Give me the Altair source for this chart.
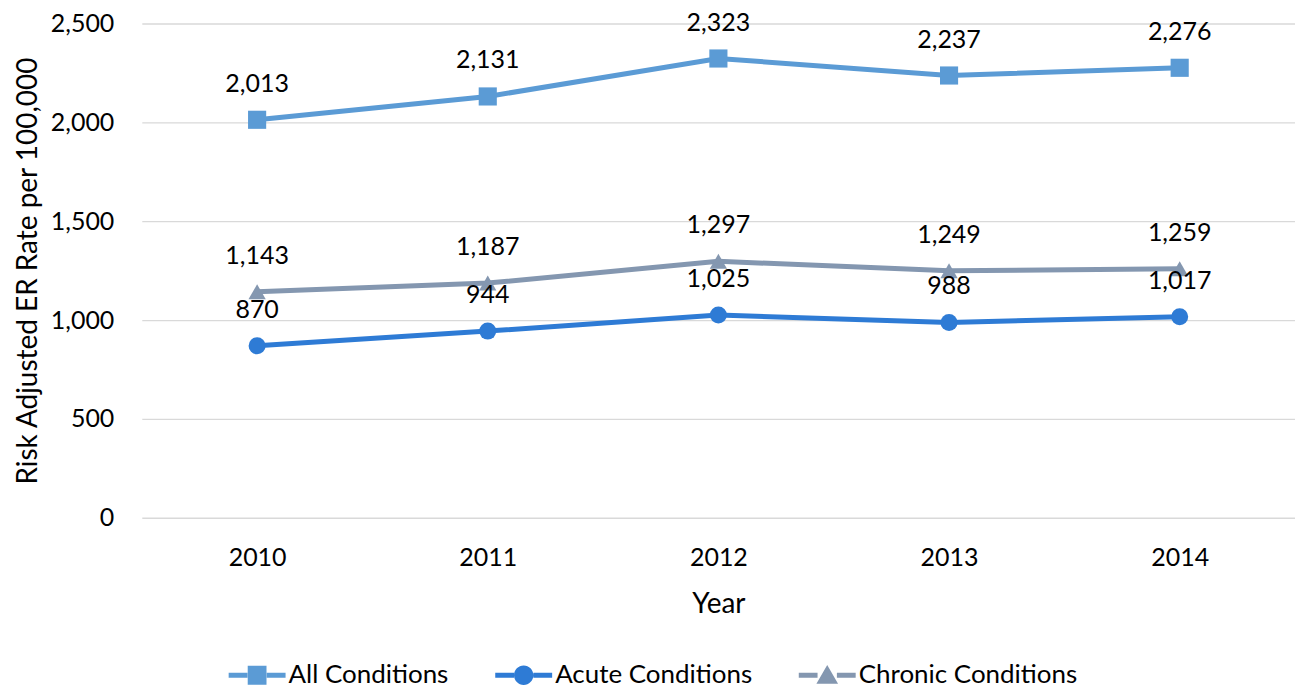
import altair as alt
import pandas as pd

years = ["2010", "2011", "2012", "2013", "2014"]
series = ["All Conditions", "Acute Conditions", "Chronic Conditions"]
all_vals = [2013, 2131, 2323, 2237, 2276]
acute_vals = [870, 944, 1025, 988, 1017]
chronic_vals = [1143, 1187, 1297, 1249, 1259]
colors = ["#5B9BD5", "#2E7BD5", "#8497B0"]
shapes = ["square", "circle", "triangle-up"]

rows = []
for name, vals in zip(series, [all_vals, acute_vals, chronic_vals]):
    for y, v in zip(years, vals):
        rows.append({"Year": y, "Series": name, "Value": v})
df = pd.DataFrame(rows)

FONT = "Lato"
FS = 25
TFS = 28
bar = "M-1,-0.085 L-0.34,-0.085 L-0.34,0.085 L-1,0.085 Z M0.34,-0.085 L1,-0.085 L1,0.085 L0.34,0.085 Z "
legend_paths = [
    bar + "M-0.33,-0.33 L0.33,-0.33 L0.33,0.33 L-0.33,0.33 Z",
    bar + "M-0.34,0 A0.34,0.34 0 1,0 0.34,0 A0.34,0.34 0 1,0 -0.34,0 Z",
    bar + "M0,-0.36 L0.38,0.3 L-0.38,0.3 Z",
]

x_enc = alt.X("Year:O", sort=years,
              scale=alt.Scale(type="point", padding=0.5),
              axis=alt.Axis(title="Year", labelAngle=0, ticks=False, domain=False,
                            labelPadding=28, titlePadding=20, grid=False))
y_enc = alt.Y("Value:Q", scale=alt.Scale(domain=[0, 2500], nice=False),
              axis=alt.Axis(title="Risk Adjusted ER Rate per 100,000", values=[0, 500, 1000, 1500, 2000, 2500],
                            format=",d", ticks=False, domain=False, labelPadding=28, titlePadding=8,
                            gridColor="#D9D9D9", gridWidth=1.3))

base = alt.Chart(df)

layers = []
for name, col in zip(series, colors):
    layers.append(
        base.transform_filter(alt.datum.Series == name)
        .mark_line(strokeWidth=5, color=col)
        .encode(x=x_enc, y=y_enc)
    )
for name, shp, col, sz in zip(series, shapes, colors, [330, 290, 300]):
    layers.append(
        base.transform_filter(alt.datum.Series == name)
        .mark_point(shape=shp, filled=True, opacity=1, size=sz, color=col)
        .encode(x=x_enc, y=y_enc)
    )

labels = base.mark_text(dy=-36, fontSize=FS, font=FONT, color="#000000", baseline="middle").encode(
    x=x_enc, y=y_enc, text=alt.Text("Value:Q", format=",d"))

legend_layer = base.transform_filter("false").mark_point(filled=True, opacity=1).encode(
    x=x_enc, y=y_enc,
    color=alt.Color("Series:N", sort=series, scale=alt.Scale(domain=series, range=colors),
                    legend=alt.Legend(title=None, orient="none", direction="horizontal",
                                      legendX=87, legendY=624, symbolSize=3249,
                                      symbolOpacity=1, symbolStrokeWidth=0,
                                      labelFontSize=26, labelFont=FONT, labelColor="#000000",
                                      labelLimit=400, columnPadding=46, labelOffset=3, padding=0)),
    shape=alt.Shape("Series:N", sort=series, scale=alt.Scale(domain=series, range=legend_paths)),
)

chart = alt.layer(*layers, labels, legend_layer).properties(
    width=1155, height=495,
    autosize=alt.AutoSizeParams(type="none"),
    padding={"left": 134, "top": 15, "right": 0, "bottom": 170},
).configure_view(stroke=None).configure_axis(
    labelFont=FONT, titleFont=FONT, labelFontSize=FS, titleFontSize=TFS,
    labelColor="#000000", titleColor="#000000", titleFontWeight="normal"
)

chart.save("out.html", embed_options={"renderer": "svg", "actions": False})
